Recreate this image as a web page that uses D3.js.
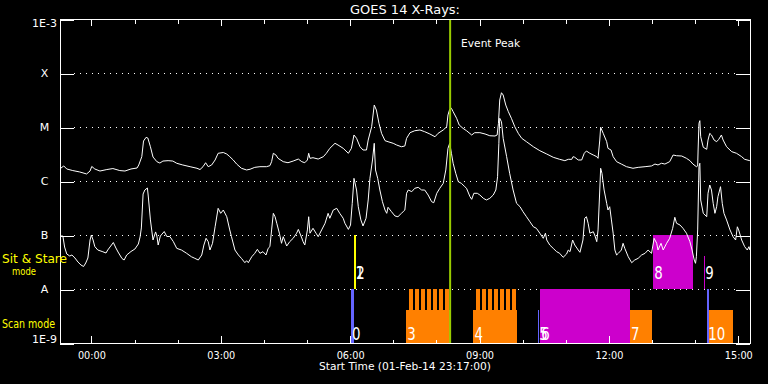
<!DOCTYPE html>
<html><head><meta charset="utf-8">
<script src="https://cdn.jsdelivr.net/npm/d3@7"></script>
<style>
html,body{margin:0;padding:0;background:#000;}
svg{display:block;background:#000;}
text{font-family:"DejaVu Sans",sans-serif;fill:#fff;}
</style></head><body>
<svg id="c" width="768" height="384"></svg>
<script>
// ---------------- DATA ----------------
const titleText = "GOES 14 X-Rays:";
const xAxisTitle = "Start Time (01-Feb-14 23:17:00)";
const startHour = -43/60;            // 01-Feb-14 23:17 (hours relative to 02-Feb 00:00)
const endHour = 15 + 17/60;          // 02-Feb-14 15:17
const majorHours = [0,3,6,9,12,15];
const minorHours = [0,1,2,3,4,5,6,7,8,9,10,11,12,13,14,15];
const fluxTicks = [1e-9,1e-8,1e-7,1e-6,1e-5,1e-4,1e-3];
const fluxTickLabels = ["1E-9","A","B","C","M","X","1E-3"];
const eventPeakHour = 8.33;
const eventLabel = "Event Peak";

// GOES long channel (1-8 A), time in hours, flux W/m^2
const longTime = [-0.72,-0.63,-0.56,-0.42,-0.26,-0.10,-0.02,0.02,0.09,0.21,
0.37,0.51,0.67,0.79,0.93,1.07,1.11,1.18,1.22,1.28,
1.32,1.38,1.44,1.53,1.60,1.67,1.79,1.90,1.99,2.13,
2.30,2.46,2.53,2.60,2.66,2.72,2.80,2.88,2.95,3.07,
3.15,3.22,3.30,3.38,3.49,3.61,3.69,3.80,3.92,4.07,
4.15,4.19,4.23,4.29,4.34,4.46,4.57,4.69,4.81,4.89,
4.96,5.02,5.05,5.08,5.15,5.27,5.39,5.46,5.54,5.66,
5.73,5.85,5.97,6.04,6.10,6.16,6.24,6.31,6.39,6.43,
6.51,6.57,6.62,6.68,6.74,6.82,6.89,7.01,7.09,7.20,
7.28,7.32,7.40,7.51,7.63,7.74,7.86,7.98,8.05,8.17,
8.25,8.28,8.32,8.36,8.40,8.48,8.54,8.63,8.71,8.83,
8.90,9.02,9.14,9.25,9.37,9.42,9.45,9.48,9.52,9.56,
9.62,9.68,9.75,9.83,9.91,9.99,10.10,10.26,10.41,10.57,
10.72,10.87,10.99,11.07,11.15,11.18,11.22,11.30,11.38,11.44,
11.49,11.57,11.65,11.73,11.76,11.80,11.82,11.88,11.96,11.99,
12.06,12.11,12.19,12.30,12.42,12.57,12.69,12.85,13.00,13.08,
13.15,13.23,13.31,13.42,13.50,13.58,13.70,13.81,13.89,13.96,
14.04,14.07,14.08,14.10,14.12,14.14,14.20,14.28,14.31,14.35,
14.39,14.45,14.51,14.56,14.62,14.66,14.74,14.86,14.97,15.09,
15.16,15.28];
const longFlux = [1.67e-6,1.9e-6,1.67e-6,1.56e-6,1.47e-6,1.35e-6,1.53e-6,1.86e-6,1.67e-6,1.53e-6,
1.63e-6,1.70e-6,1.56e-6,1.53e-6,1.67e-6,1.74e-6,1.98e-6,2.82e-6,5.5e-6,6.44e-6,
6.25e-6,4.31e-6,2.78e-6,2.28e-6,2.15e-6,2.34e-6,2.38e-6,2.34e-6,2.13e-6,1.98e-6,
1.84e-6,1.72e-6,1.63e-6,1.84e-6,2.18e-6,1.84e-6,1.98e-6,2.45e-6,3.26e-6,3.37e-6,
3.16e-6,2.82e-6,2.45e-6,2.06e-6,1.72e-6,1.60e-6,1.65e-6,1.79e-6,1.84e-6,1.84e-6,
1.92e-6,2.28e-6,3.26e-6,3.03e-6,2.63e-6,2.28e-6,2.18e-6,2.34e-6,2.55e-6,2.28e-6,
2.18e-6,2.45e-6,3.26e-6,2.63e-6,2.70e-6,2.55e-6,2.82e-6,3.26e-6,4.03e-6,4.99e-6,
4.64e-6,4.03e-6,3.26e-6,4.03e-6,7.11e-6,6.17e-6,4.31e-6,3.75e-6,3.75e-6,5.74e-6,
1.01e-5,2.55e-5,2.06e-5,1.17e-5,7.63e-6,5.58e-6,5.34e-6,4.99e-6,4.64e-6,4.31e-6,
4.45e-6,6.17e-6,7.85e-6,8.53e-6,8.80e-6,8.18e-6,7.42e-6,6.60e-6,7.63e-6,8.80e-6,
1.01e-5,1.67e-5,2.13e-5,2.22e-5,1.92e-5,1.45e-5,1.09e-5,9.43e-6,8.53e-6,7.11e-6,
7.85e-6,7.85e-6,7.42e-6,6.89e-6,6.81e-6,7.11e-6,1.17e-5,3.16e-5,4.31e-5,3.91e-5,
2.55e-5,1.92e-5,1.45e-5,1.01e-5,7.63e-6,6.17e-6,5.34e-6,4.31e-6,3.64e-6,3.16e-6,
2.75e-6,2.52e-6,2.38e-6,2.52e-6,2.52e-6,2.82e-6,2.75e-6,2.45e-6,2.45e-6,3.26e-6,
3.59e-6,3.26e-6,3.03e-6,2.82e-6,2.63e-6,5.74e-6,9.88e-6,7.63e-6,5.34e-6,4.03e-6,
3.75e-6,2.82e-6,2.28e-6,2.06e-6,1.84e-6,1.72e-6,1.79e-6,1.84e-6,1.90e-6,2.06e-6,
1.98e-6,2.13e-6,2.06e-6,2.28e-6,3.03e-6,2.94e-6,2.90e-6,2.63e-6,2.38e-6,2.06e-6,
1.84e-6,1.90e-6,3.75e-6,1.17e-5,1.31e-5,6.60e-6,4.21e-6,3.86e-6,5.74e-6,7.63e-6,
7.11e-6,5.74e-6,5.34e-6,5.92e-6,7.11e-6,5.74e-6,4.31e-6,3.49e-6,3.26e-6,2.82e-6,
2.52e-6,2.38e-6];

// GOES short channel (0.5-4 A)
const shortTime = [-0.70,-0.65,-0.61,-0.56,-0.49,-0.44,-0.37,-0.30,-0.23,-0.17,
-0.12,-0.07,-0.02,0.01,0.05,0.09,0.16,0.26,0.35,0.39,
0.46,0.52,0.58,0.63,0.72,0.77,0.83,0.93,1.02,1.10,
1.14,1.17,1.21,1.25,1.31,1.33,1.38,1.44,1.50,1.53,
1.56,1.61,1.70,1.76,1.83,1.91,1.99,2.10,2.22,2.33,
2.41,2.49,2.57,2.62,2.67,2.72,2.76,2.82,2.88,2.95,
3.01,3.07,3.15,3.22,3.26,3.34,3.42,3.49,3.57,3.61,
3.65,3.73,3.80,3.86,3.92,3.99,4.06,4.11,4.15,4.19,
4.23,4.27,4.31,4.37,4.42,4.46,4.54,4.61,4.69,4.77,
4.81,4.89,4.92,4.96,5.02,5.05,5.08,5.15,5.22,5.27,
5.35,5.43,5.50,5.54,5.62,5.70,5.77,5.85,5.89,5.97,
6.02,6.06,6.10,6.16,6.20,6.26,6.31,6.38,6.43,6.47,
6.53,6.57,6.60,6.65,6.70,6.76,6.82,6.86,6.89,6.97,
7.05,7.12,7.20,7.24,7.28,7.32,7.36,7.44,7.51,7.59,
7.67,7.74,7.82,7.90,7.95,8.02,8.09,8.17,8.23,8.28,
8.32,8.36,8.40,8.46,8.52,8.59,8.67,8.71,8.79,8.83,
8.88,8.96,9.02,9.10,9.17,9.25,9.33,9.39,9.43,9.46,
9.48,9.52,9.56,9.64,9.71,9.79,9.87,9.95,10.02,10.10,
10.18,10.26,10.33,10.41,10.49,10.54,10.57,10.64,10.72,10.80,
10.87,10.95,11.03,11.07,11.11,11.17,11.22,11.30,11.34,11.41,
11.45,11.49,11.53,11.57,11.65,11.69,11.73,11.76,11.80,11.82,
11.85,11.90,11.96,11.99,12.03,12.07,12.11,12.15,12.19,12.23,
12.30,12.34,12.38,12.46,12.54,12.61,12.69,12.77,12.85,12.92,
13.00,13.06,13.12,13.15,13.22,13.27,13.35,13.42,13.49,13.54,
13.58,13.66,13.73,13.81,13.89,13.94,13.99,14.02,14.04,14.07,
14.10,14.12,14.14,14.20,14.28,14.31,14.35,14.39,14.43,14.47,
14.51,14.54,14.60,14.64,14.68,14.74,14.82,14.89,14.95,14.99,
15.02,15.09,15.16,15.22,15.26,15.28];
const shortFlux = [9.58e-8,9.58e-8,5.99e-8,4.45e-8,4.08e-8,4.26e-8,3.75e-8,3.16e-8,2.78e-8,2.61e-8,
3.03e-8,3.75e-8,8.08e-8,1.0e-7,8.08e-8,6.12e-8,5.27e-8,4.95e-8,4.64e-8,5.27e-8,
6.25e-8,7.26e-8,5.74e-8,4.84e-8,3.67e-8,3.44e-8,4.26e-8,4.95e-8,5.50e-8,6.81e-8,
9.18e-8,1.35e-7,5.74e-7,6.81e-7,7.42e-7,5.27e-7,1.90e-7,8.08e-8,1.14e-7,9.58e-8,
6.52e-8,9.58e-8,1.16e-7,9.38e-8,9.38e-8,7.58e-8,5.66e-8,5.27e-8,4.58e-8,3.96e-8,
3.70e-8,3.44e-8,4.26e-8,6.52e-8,8.68e-8,7.52e-8,5.27e-8,7.02e-8,1.42e-7,3.12e-7,
2.52e-7,2.90e-7,2.18e-7,1.24e-7,9.30e-8,5.27e-8,4.26e-8,3.70e-8,3.07e-8,3.34e-8,
3.07e-8,3.96e-8,4.58e-8,5.43e-8,4.58e-8,4.91e-8,4.26e-8,5.66e-8,6.08e-8,1.24e-7,
2.52e-7,2.18e-7,1.65e-7,1.08e-7,7.02e-8,9.30e-8,6.25e-8,7.52e-8,8.68e-8,1.08e-7,
1.27e-7,8.80e-8,7.52e-8,6.52e-8,1.24e-7,2.18e-7,1.08e-7,1.33e-7,1.08e-7,9.30e-8,
1.24e-7,1.65e-7,2.52e-7,2.04e-7,2.90e-7,3.12e-7,2.52e-7,2.04e-7,1.65e-7,1.27e-7,
1.53e-7,3.86e-7,1.12e-6,6.81e-7,3.34e-7,1.90e-7,1.47e-7,2.04e-7,4.45e-7,1.12e-6,
2.45e-6,4.99e-6,1.60e-6,1.12e-6,6.81e-7,4.14e-7,2.90e-7,2.52e-7,3.26e-7,2.70e-7,
2.25e-7,2.18e-7,2.52e-7,2.70e-7,2.90e-7,5.92e-7,6.81e-7,6.34e-7,7.33e-7,7.63e-7,
6.81e-7,6.81e-7,5.50e-7,4.14e-7,3.96e-7,5.92e-7,7.33e-7,9.05e-7,1.60e-6,4.03e-6,
4.99e-6,3.26e-6,2.13e-6,1.39e-6,9.70e-7,9.05e-7,7.85e-7,7.33e-7,5.12e-7,4.58e-7,
5.92e-7,5.92e-7,5.50e-7,4.78e-7,4.45e-7,4.78e-7,5.50e-7,6.81e-7,1.20e-6,4.99e-6,
1.45e-5,1.25e-5,6.17e-6,2.82e-6,1.39e-6,6.81e-7,3.86e-7,3.34e-7,2.70e-7,2.18e-7,
1.76e-7,1.42e-7,1.33e-7,1.08e-7,8.68e-8,1.08e-7,8.08e-8,6.52e-8,5.66e-8,4.91e-8,
4.58e-8,3.86e-8,4.45e-8,5.27e-8,4.91e-8,8.08e-8,6.52e-8,5.27e-8,4.78e-8,8.08e-8,
2.04e-7,2.18e-7,1.65e-7,1.08e-7,1.15e-7,9.58e-8,7.52e-8,1.24e-7,6.81e-7,1.72e-6,
1.39e-6,6.81e-7,3.86e-7,2.90e-7,3.34e-7,1.90e-7,1.08e-7,5.27e-8,4.26e-8,4.58e-8,
5.27e-8,7.02e-8,5.66e-8,3.96e-8,3.07e-8,3.44e-8,3.70e-8,4.26e-8,4.58e-8,5.27e-8,
4.58e-8,8.68e-8,7.02e-8,5.27e-8,7.02e-8,5.27e-8,7.02e-8,8.68e-8,1.33e-7,2.13e-7,
1.65e-7,1.53e-7,1.33e-7,1.08e-7,7.52e-8,5.27e-8,3.44e-8,2.99e-8,3.96e-8,1.24e-7,
1.84e-6,2.13e-6,4.45e-7,2.52e-7,2.18e-7,5.92e-7,8.43e-7,6.81e-7,3.86e-7,2.52e-7,
3.34e-7,5.12e-7,7.85e-7,3.86e-7,2.52e-7,1.90e-7,1.24e-7,9.30e-8,8.08e-8,1.42e-7,
1.24e-7,8.08e-8,6.08e-8,5.27e-8,6.08e-8,5.27e-8];

// Observations (IRIS-like timeline)
const modeNames = ["Sit & Stare", "Scan mode"];
const obsLabel = ["0","1","2","3","4","5","6","7","8","9","10",""];
const obsStart = [6.02,6.10,6.12,7.30,8.86,10.36,10.41,12.49,13.03,14.21,14.28,14.34];
const obsEnd   = [6.11,6.12,6.14,8.33,9.88,10.40,12.49,13.02,13.97,14.23,14.34,14.88];
const obsMode  = ["scan","sit","sit","scan","scan","scan","scan","scan","sit","sit","scan","scan"];
const obsKind  = ["quick","sns","sns","raster","raster","quick","large","raster","large","large","quick","raster"];
const obsLevel = [1,1,1,0.61,0.61,0.61,1,0.61,1,0.61,1,0.61];
const rasterStarts = [7.37,7.51,7.65,7.79,7.93,8.07,8.21, 8.93,9.07,9.20,9.34,9.48,9.62,9.76];
const rasterDur = 0.093;

// ---------------- DRAW ----------------
const L=60,R=750,T=19,B=343;
const svg=d3.select("#c");
const x=d3.scaleLinear().domain([startHour,endHour]).range([L,R]);
const y=d3.scaleLog().domain([1e-9,1e-3]).range([B,T]);
const kindColor=d3.scaleOrdinal().domain(["quick","sns","raster","large"])
  .range(["#6464ff","#ffff00","#ff8000","#cc00cc"]);
const band={scan:[1e-9,1e-8], sit:[1e-8,1e-7]};

svg.append("defs").append("clipPath").attr("id","clip")
  .append("rect").attr("x",L).attr("y",T).attr("width",R-L).attr("height",B-T);

// grid lines (dotted) at A..X
svg.append("g").selectAll("line").data(fluxTicks.slice(1,-1)).join("line")
  .attr("x1",L+14).attr("x2",R-14)
  .attr("y1",d=>Math.round(y(d))+0.5).attr("y2",d=>Math.round(y(d))+0.5)
  .attr("stroke","#fff").attr("stroke-dasharray","1,5").attr("shape-rendering","crispEdges");

// observation bars
const bars=svg.append("g").attr("shape-rendering","crispEdges");
const obs=obsStart.map((s,i)=>({s,e:obsEnd[i],mode:obsMode[i],kind:obsKind[i],lvl:obsLevel[i],label:obsLabel[i]}));
function barTop(mode,lvl){const b0=y(band[mode][0]),b1=y(band[mode][1]);return b0-lvl*(b0-b1);}
bars.selectAll("rect.ob").data(obs).join("rect").attr("class","ob")
  .attr("x",d=>x(d.s)).attr("width",d=>Math.max(1,x(d.e)-x(d.s)))
  .attr("y",d=>barTop(d.mode,d.lvl)).attr("height",d=>y(band[d.mode][0])-barTop(d.mode,d.lvl))
  .attr("fill",d=>kindColor(d.kind));
bars.selectAll("rect.rs").data(rasterStarts).join("rect").attr("class","rs")
  .attr("x",d=>x(d)).attr("width",d=>x(d+rasterDur)-x(d))
  .attr("y",y(band.scan[1])).attr("height",y(band.scan[0])-y(band.scan[1]))
  .attr("fill",kindColor("raster"));

// curves
const line=d3.line().x(d=>x(d[0])).y(d=>y(d[1]));
const cg=svg.append("g").attr("clip-path","url(#clip)");
cg.append("path").datum(longTime.map((t,i)=>[t,longFlux[i]])).attr("d",line)
  .attr("fill","none").attr("stroke","#fff").attr("stroke-width",1);
cg.append("path").datum(shortTime.map((t,i)=>[t,shortFlux[i]])).attr("d",line)
  .attr("fill","none").attr("stroke","#fff").attr("stroke-width",1);

// bar labels
svg.append("g").selectAll("text").data(obs.filter(d=>d.label!=="")).join("text")
  .attr("x",d=>x(d.s)+1.5).attr("y",d=>d.mode==="scan"?340:279)
  .attr("font-size",17).attr("textLength",d=>d.label.length*8.5).attr("lengthAdjust","spacingAndGlyphs")
  .text(d=>d.label);

// event peak line
svg.append("line").attr("x1",x(eventPeakHour)).attr("x2",x(eventPeakHour)).attr("y1",T).attr("y2",B)
  .attr("stroke","#99cc00").attr("stroke-width",2);
svg.append("text").attr("x",x(eventPeakHour)+11).attr("y",47).attr("font-size",10.5)
  .attr("textLength",59).attr("lengthAdjust","spacingAndGlyphs").text(eventLabel);

// frame
svg.append("rect").attr("x",L+0.5).attr("y",T+0.5).attr("width",R-L).attr("height",B-T)
  .attr("fill","none").attr("stroke","#fff").attr("shape-rendering","crispEdges");

// x axes
function styleAxis(g){g.select(".domain").remove();g.selectAll("line").attr("stroke","#fff").attr("shape-rendering","crispEdges");}
svg.append("g").attr("transform",`translate(0.5,${B})`)
  .call(d3.axisTop(x).tickValues(minorHours).tickSize(3.5).tickFormat("")).call(styleAxis);
svg.append("g").attr("transform",`translate(0.5,${B})`)
  .call(d3.axisBottom(x).tickValues(majorHours).tickSize(-6.7).tickPadding(8.5)
    .tickFormat(d=>d3.format("02d")(d)+":00")).call(styleAxis)
  .call(g=>g.selectAll("text").attr("fill","#fff").attr("font-size",11)
    .attr("font-family","DejaVu Sans").attr("textLength",28).attr("lengthAdjust","spacingAndGlyphs"));
svg.append("g").attr("transform",`translate(0.5,${T+1})`)
  .call(d3.axisBottom(x).tickValues(minorHours).tickSize(4).tickFormat("")).call(styleAxis);
svg.append("g").attr("transform",`translate(0.5,${T+1})`)
  .call(d3.axisBottom(x).tickValues(majorHours).tickSize(6).tickFormat("")).call(styleAxis);

// y axes
svg.append("g").attr("transform",`translate(${L},0.5)`)
  .call(d3.axisRight(y).tickValues(fluxTicks).tickSize(14).tickFormat("")).call(styleAxis);
svg.append("g").attr("transform",`translate(${R},0.5)`)
  .call(d3.axisLeft(y).tickValues(fluxTicks).tickSize(14).tickFormat("")).call(styleAxis);
svg.append("g").selectAll("text").data(fluxTicks).join("text")
  .attr("x",44.5).attr("text-anchor","middle").attr("font-size",11)
  .attr("y",(d,i)=>y(d)+(i===0?0.3:(i===fluxTicks.length-1?8.3:4.3)))
  .text((d,i)=>fluxTickLabels[i]);

// titles
svg.append("text").attr("x",(L+R)/2).attr("y",14).attr("text-anchor","middle").attr("font-size",12.5)
  .attr("textLength",110).attr("lengthAdjust","spacingAndGlyphs").text(titleText);
svg.append("text").attr("x",(L+R)/2).attr("y",370).attr("text-anchor","middle").attr("font-size",10.8)
  .attr("textLength",172).attr("lengthAdjust","spacingAndGlyphs").text(xAxisTitle);

// mode labels
const yel="#ffff00";
svg.append("text").attr("x",2).attr("y",263).attr("font-size",12).style("fill",yel)
  .attr("textLength",65).attr("lengthAdjust","spacingAndGlyphs").text(modeNames[0]);
svg.append("text").attr("x",12).attr("y",275).attr("font-size",11).style("fill",yel)
  .attr("textLength",24).attr("lengthAdjust","spacingAndGlyphs").text("mode");
svg.append("text").attr("x",2).attr("y",328).attr("font-size",12).style("fill",yel)
  .attr("textLength",53).attr("lengthAdjust","spacingAndGlyphs").text(modeNames[1]);
</script>
</body></html>
